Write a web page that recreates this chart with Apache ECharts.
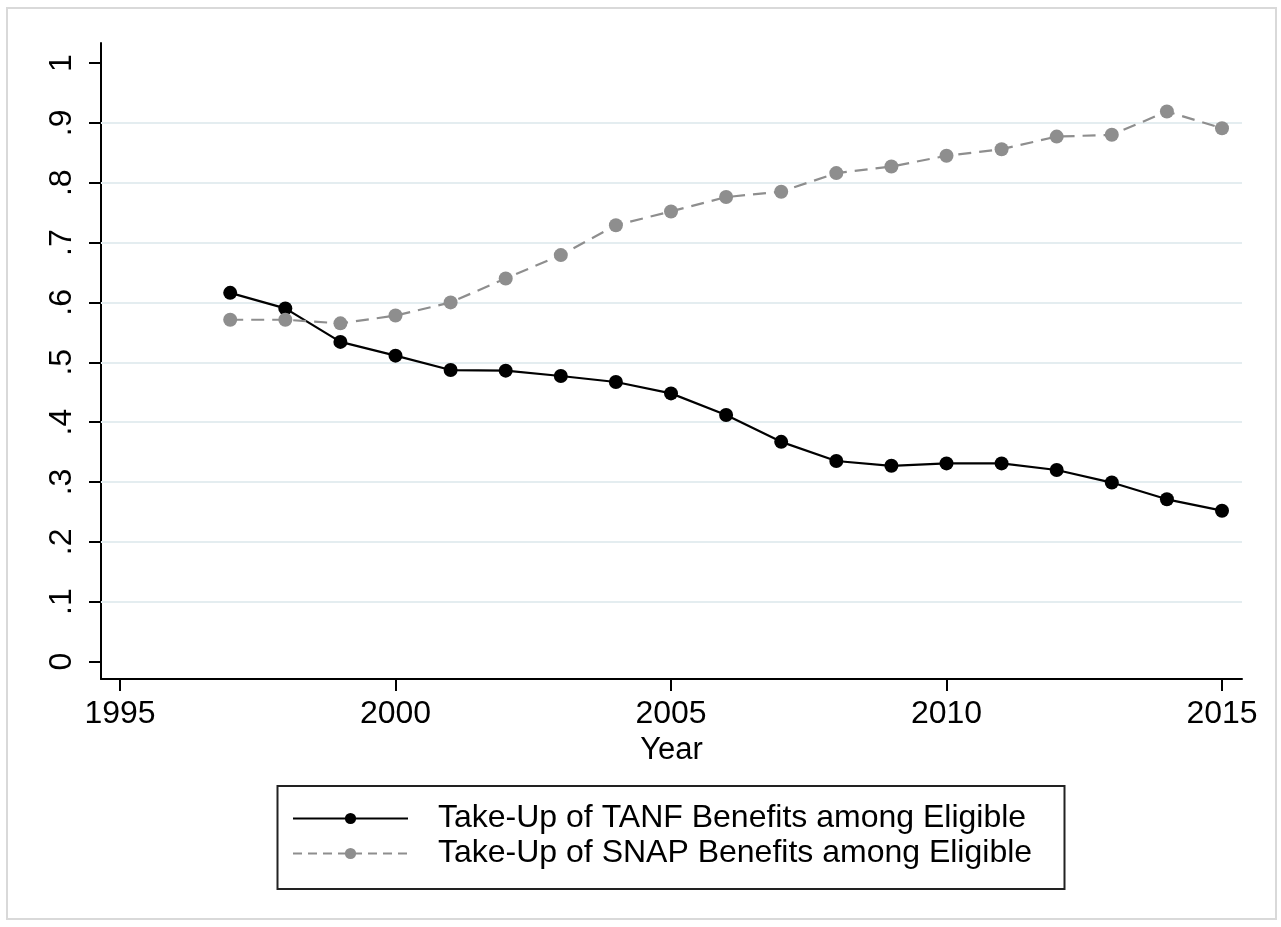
<!DOCTYPE html>
<html>
<head>
<meta charset="utf-8">
<script src="https://cdn.jsdelivr.net/npm/echarts@6/dist/echarts.min.js"></script>
<style>
html,body{margin:0;padding:0;background:#fff;}
#chart{width:1281px;height:927px;}
</style>
</head>
<body>
<div id="chart"></div>
<script>
// ---- data ----
const years = [1997,1998,1999,2000,2001,2002,2003,2004,2005,2006,2007,2008,2009,2010,2011,2012,2013,2014,2015];
const tanf = [0.616,0.590,0.534,0.511,0.487,0.486,0.477,0.467,0.448,0.412,0.367,0.335,0.327,0.331,0.331,0.320,0.299,0.271,0.252];
const snap = [0.571,0.571,0.565,0.578,0.600,0.640,0.679,0.729,0.752,0.776,0.785,0.816,0.827,0.845,0.856,0.877,0.880,0.919,0.891];
const xTicks = [1995,2000,2005,2010,2015];
const xTickLabels = ['1995','2000','2005','2010','2015'];
const yTicks = [0,0.1,0.2,0.3,0.4,0.5,0.6,0.7,0.8,0.9,1];
const yTickLabels = ['0','.1','.2','.3','.4','.5','.6','.7','.8','.9','1'];
const gridValues = [0.1,0.2,0.3,0.4,0.5,0.6,0.7,0.8,0.9];
const seriesNames = ['Take-Up of TANF Benefits among Eligible','Take-Up of SNAP Benefits among Eligible'];
const xTitle = 'Year';

const FONT = '"Liberation Sans", Arial, sans-serif';
const chart = echarts.init(document.getElementById('chart'), null, {renderer:'canvas'});

function pick(ticks, labels, v){
  const i = ticks.findIndex(t => Math.abs(t - v) < 1e-6);
  return i >= 0 ? labels[i] : '';
}

const option = {
  animation: false,
  backgroundColor: '#ffffff',
  textStyle: {fontFamily: FONT},
  grid: {left: 101, top: 43, right: 39, bottom: 248, containLabel: false},
  graphic: [
    {type:'rect', shape:{x:7, y:8, width:1269, height:911}, style:{fill:'none', stroke:'#d9d9d9', lineWidth:2}, silent:true, z:0},
    {type:'rect', shape:{x:277.5, y:786, width:787, height:103}, style:{fill:'#fff', stroke:'#222', lineWidth:2}, silent:true, z:0}
  ],
  xAxis: {
    type: 'value',
    min: 1994.655, max: 2015.363,
    name: xTitle, nameLocation: 'middle', nameGap: 55,
    nameTextStyle: {fontSize: 31, color:'#000', fontFamily: FONT},
    axisLine: {show:true, onZero:false, lineStyle:{color:'#000', width:2}},
    axisTick: {show:true, customValues: xTicks, length:12, lineStyle:{color:'#000', width:2}},
    axisLabel: {show:true, customValues: xTicks, fontSize:32, color:'#000', margin:19, fontFamily: FONT,
      formatter: v => pick(xTicks, xTickLabels, v)},
    splitLine: {show:false}
  },
  yAxis: {
    type: 'value',
    min: -0.0292, max: 1.0334,
    axisLine: {show:true, onZero:false, lineStyle:{color:'#000', width:2}},
    axisTick: {show:true, customValues: yTicks, length:12, lineStyle:{color:'#000', width:2}},
    axisLabel: {show:true, customValues: yTicks, rotate:90, fontSize:32, color:'#000', margin:23, fontFamily: FONT,
      formatter: v => pick(yTicks, yTickLabels, v)},
    splitLine: {show:false}
  },
  legend: {
    orient: 'vertical',
    left: 292, top: 801,
    padding: 0,
    itemGap: 0,
    itemWidth: 115, itemHeight: 14,
    textStyle: {fontSize: 32, color:'#000', fontFamily: FONT, lineHeight: 35, padding:[0,0,0,25]},
    data: [
      {name: seriesNames[0]},
      {name: seriesNames[1], lineStyle:{type:[9,6]}}
    ]
  },
  series: [
    {
      name: seriesNames[0],
      type: 'line',
      data: years.map((y,i) => [y, tanf[i]]),
      symbol: 'circle', symbolSize: 14,
      itemStyle: {color:'#000'},
      lineStyle: {color:'#000', width:2.2},
      z: 3,
      markLine: {
        silent: true, symbol: ['none','none'], z: 1,
        label: {show:false},
        lineStyle: {color:'#e4edf0', width:2, type:'solid'},
        emphasis: {disabled:true},
        data: gridValues.map(v => ({yAxis: v}))
      }
    },
    {
      name: seriesNames[1],
      type: 'line',
      data: years.map((y,i) => [y, snap[i]]),
      symbol: 'circle', symbolSize: 14,
      itemStyle: {color:'#8e8e8e'},
      lineStyle: {color:'#8e8e8e', width:2.2, type:[13,8]},
      z: 4
    }
  ]
};
chart.setOption(option);
</script>
</body>
</html>
